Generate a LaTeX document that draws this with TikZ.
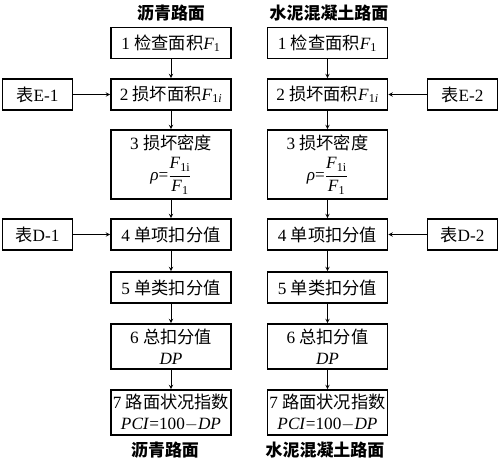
\documentclass[tikz,border=0pt]{standalone}
\usepackage{amsmath}
\usepackage{fontspec}
\setmainfont{Liberation Serif}
\newfontfamily\cjk{Noto Sans CJK SC}
\newcommand{\Fv}[1]{\textit{F}\textsubscript{#1}}
\begin{document}
\begin{tikzpicture}[x=0.03cm,y=-0.03cm,
    box/.style={draw,line width=1.4pt,minimum width=3.6cm,minimum height=0.93cm,
      inner sep=0pt,align=center,font=\fontsize{14.7}{18}\selectfont},
    tab/.style={box,minimum width=2.1cm},
    title/.style={font=\fontsize{14.5}{17}\selectfont\cjk\bfseries},
    arr/.style={->,>=stealth,line width=0.7pt}]
        \useasboundingbox (0,0) rectangle (500,462);
        \node[title] (tl) at (171,13) {沥青路面};
        \node[title] (tr) at (329,13) {水泥混凝土路面};
        \node[box] (l1) at (171,43) {1 {\cjk 检查面积}\Fv{1}};
        \node[box] (l2) at (171,94.5) {2 {\cjk 损坏面积}\Fv{1\textit{i}}};
        \node[box,minimum height=2.07cm] (l3) at (171,164.5)
          {3 {\cjk 损坏密度}\\[5pt] \textit{ρ}=$\dfrac{\text{\Fv{1i}}}{\text{\Fv{1}}}$};
        \node[box] (l4) at (171,234.5) {4 {\cjk 单项扣分值}};
        \node[box] (l5) at (171,287.5) {5 {\cjk 单类扣分值}};
        \node[box,minimum height=1.35cm] (l6) at (171,346.5) {6 {\cjk 总扣分值}\\ \textit{DP}};
        \node[box,minimum height=1.35cm] (l7) at (171,412.5)
          {7 {\cjk 路面状况指数}\\ \textit{PCI}=100$-$\textit{DP}};
        \node[box] (r1) at (327.5,43) {1 {\cjk 检查面积}\Fv{1}};
        \node[box] (r2) at (327.5,94.5) {2 {\cjk 损坏面积}\Fv{1\textit{i}}};
        \node[box,minimum height=2.07cm] (r3) at (327.5,164.5)
          {3 {\cjk 损坏密度}\\[5pt] \textit{ρ}=$\dfrac{\text{\Fv{1i}}}{\text{\Fv{1}}}$};
        \node[box] (r4) at (327.5,234.5) {4 {\cjk 单项扣分值}};
        \node[box] (r5) at (327.5,287.5) {5 {\cjk 单类扣分值}};
        \node[box,minimum height=1.35cm] (r6) at (327.5,346.5) {6 {\cjk 总扣分值}\\ \textit{DP}};
        \node[box,minimum height=1.35cm] (r7) at (327.5,412.5)
          {7 {\cjk 路面状况指数}\\ \textit{PCI}=100$-$\textit{DP}};
        \node[tab] (e1) at (37.5,94.5) {{\cjk 表}E-1};
        \node[tab] (d1) at (37.5,234.5) {{\cjk 表}D-1};
        \node[tab] (e2) at (462.5,94.5) {{\cjk 表}E-2};
        \node[tab] (d2) at (462.5,234.5) {{\cjk 表}D-2};
        \node[title] (bl) at (165,450) {沥青路面};
        \node[title] (br) at (325,450) {水泥混凝土路面};
        % vertical flow
        \foreach \a/\b in {1/2,2/3,3/4,4/5,5/6,6/7} {
          \draw[arr] (l\a) -- (l\b);
          \draw[arr] (r\a) -- (r\b);
        }
        % tables
        \draw[arr] (e1) -- (l2);
        \draw[arr] (d1) -- (l4);
        \draw[arr] (e2) -- (r2);
        \draw[arr] (d2) -- (r4);
      \end{tikzpicture}
\end{document}
